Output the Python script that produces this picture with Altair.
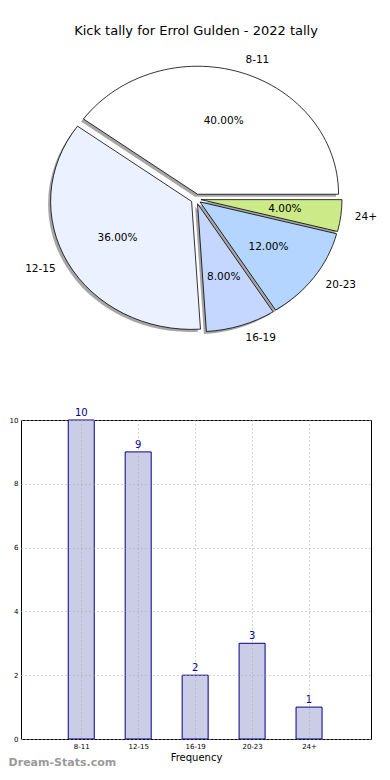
import json
import altair as alt
import pandas as pd

# ---- data ----
categories = ["8-11", "12-15", "16-19", "20-23", "24+"]
counts = [10, 9, 2, 3, 1]
slice_colors = ["#ffffff", "#ebf1ff", "#c5d7ff", "#b3d5ff", "#ccea87"]

FONT = "DejaVu Sans"

df = pd.DataFrame({"cat": categories, "count": counts,
                   "color": slice_colors, "order": list(range(len(categories)))})

# ---- pie geometry (pixel frame of the top panel) ----
CX, CY = 175, 149
RX, RY = 141.0, 128.0
RYN = round(RY / RX, 4)
EXPL = 5
SIZE = (2 * RX) ** 2
SH_DX, SH_DY = -2.5, 2.5


def num(e):
    # ASCII number string (avoid d3-format's unicode minus)
    return f"(round(({e})*10000)/10000)"


def pt(a):
    return f"{num(f'cos({a})')}+','+{num(f'-{RYN}*sin({a})')}"


path_expr = ("'M0,0L'+" + pt("datum.a1") + f"+'A1,{RYN} 0 '+(datum.a2-datum.a1>PI?'1':'0')+' 0 '+"
             + pt("datum.a2") + "+'Z'")

pie_base = (
    alt.Chart(df)
    .transform_joinaggregate(total="sum(count)")
    .transform_window(cum="sum(count)", sort=[alt.SortField("order")], frame=[None, 0])
    .transform_calculate(
        a1="2*PI*(datum.cum-datum.count)/datum.total",
        a2="2*PI*datum.cum/datum.total",
    )
    .transform_calculate(
        mid="(datum.a1+datum.a2)/2",
        pct="format(datum.count/datum.total*100,'.2f')+'%'",
        path=path_expr,
    )
    .transform_calculate(
        ox=f"{CX}+{EXPL}*cos(datum.mid)",
        oy=f"{CY}-{EXPL}*sin(datum.mid)",
    )
    .transform_calculate(
        sx=f"datum.ox+({SH_DX})",
        sy=f"datum.oy+({SH_DY})",
        lx=f"datum.ox+1.1*{RX}*cos(datum.mid)",
        ly=f"datum.oy-1.1*{RY}*sin(datum.mid)",
        px=f"datum.ox+0.6*{RX}*cos(datum.mid)",
        py=f"datum.oy-0.6*{RY}*sin(datum.mid)",
        c="cos(datum.mid)",
    )
)

shadow = pie_base.mark_point(filled=True, opacity=0.5, fill="#4d4d4d",
                             strokeWidth=0, size=SIZE).encode(
    x=alt.X("sx:Q", scale=None, axis=None),
    y=alt.Y("sy:Q", scale=None, axis=None),
    shape=alt.Shape("path:N", scale=None, legend=None),
)

wedges = pie_base.mark_point(filled=True, opacity=1, stroke="black",
                             strokeWidth=0.8, size=SIZE).encode(
    x=alt.X("ox:Q", scale=None, axis=None),
    y=alt.Y("oy:Q", scale=None, axis=None),
    shape=alt.Shape("path:N", scale=None, legend=None),
    fill=alt.Fill("color:N", scale=None, legend=None),
)

lab_right = pie_base.transform_filter("datum.c>=0").mark_text(
    align="left", baseline="middle", font=FONT, fontSize=10.5, color="black"
).encode(x=alt.X("lx:Q", scale=None, axis=None), y=alt.Y("ly:Q", scale=None, axis=None),
         text="cat:N")

lab_left = pie_base.transform_filter("datum.c<0").mark_text(
    align="right", baseline="middle", font=FONT, fontSize=10.5, color="black"
).encode(x=alt.X("lx:Q", scale=None, axis=None), y=alt.Y("ly:Q", scale=None, axis=None),
         text="cat:N")

pcts = pie_base.mark_text(
    align="center", baseline="middle", font=FONT, fontSize=10.5, color="black"
).encode(x=alt.X("px:Q", scale=None, axis=None), y=alt.Y("py:Q", scale=None, axis=None),
         text="pct:N")

pie = alt.layer(shadow, wedges, lab_right, lab_left, pcts).properties(
    width=350, height=317,
    view=alt.ViewBackground(strokeOpacity=0),
    title=alt.TitleParams("Kick tally for Errol Gulden - 2022 tally",
                          font=FONT, fontSize=13, fontWeight="normal",
                          color="black", offset=12),
)

# ---- bar chart ----
label_expr = json.dumps(categories) + "[datum.value]"

bar_base = alt.Chart(df).encode(
    x=alt.X("order:Q",
            scale=alt.Scale(domain=[-0.97, 5.0], nice=False, zero=False),
            axis=alt.Axis(values=list(range(len(categories))), labelExpr=label_expr,
                          title="Frequency", titleFont=FONT, titleFontSize=10,
                          titleFontWeight="normal", titleColor="black", titlePadding=3,
                          labelFont=FONT, labelFontSize=7, labelColor="black",
                          labelPadding=3, ticks=False,
                          grid=True, gridDash=[1, 3], gridColor="#aaaaaa",
                          domain=False, zindex=1)),
    y=alt.Y("count:Q",
            scale=alt.Scale(domain=[0, 10], nice=False),
            axis=alt.Axis(values=[0, 2, 4, 6, 8, 10], title=None,
                          labelFont=FONT, labelFontSize=7, labelColor="black",
                          labelPadding=3, ticks=False,
                          grid=True, gridDash=[1, 3], gridColor="#aaaaaa",
                          domain=False, zindex=1)),
)

bars = bar_base.mark_bar(size=26, fill="#cbcce6", stroke="#00008b", strokeWidth=1)
bar_labels = bar_base.mark_text(dy=-7, font=FONT, fontSize=10, color="#00008b").encode(
    text="count:Q")

bar_chart = alt.layer(bars, bar_labels).properties(
    width=350, height=319,
    view=alt.ViewBackground(stroke="black", strokeWidth=1),
)

chart = alt.vconcat(pie, bar_chart, spacing=40).properties(
    padding={"top": 17, "left": 0, "right": 0, "bottom": 0},
    title=alt.TitleParams("Dream-Stats.com", orient="bottom", anchor="start",
                          font=FONT, fontSize=11, fontWeight="bold",
                          color="#9a9a9a", offset=-6),
)

chart.save("out.html", embed_options={"renderer": "svg", "actions": False})
